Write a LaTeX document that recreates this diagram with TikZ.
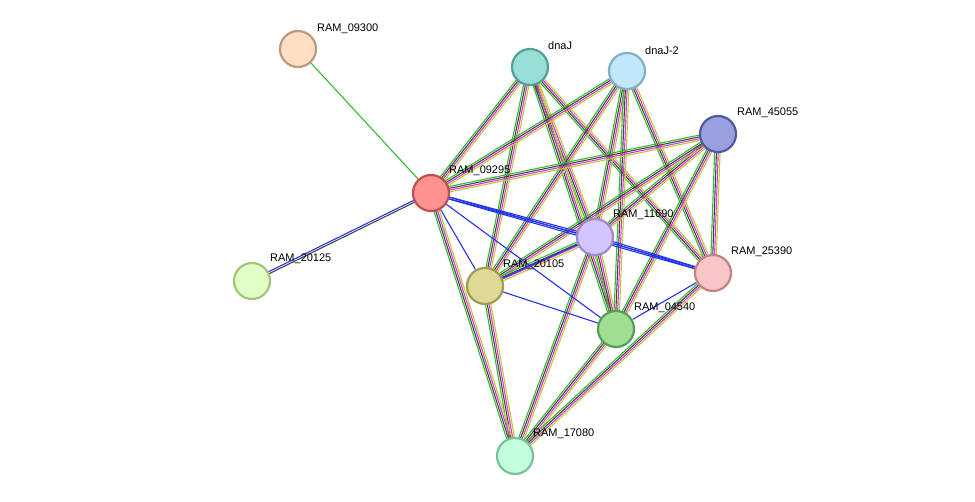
\documentclass[tikz,border=0pt]{standalone}
\usepackage{fontspec}
\setmainfont{Liberation Sans}
\usetikzlibrary{calc}
\pgfdeclarelayer{bg}\pgfsetlayers{bg,main}
\definecolor{eg}{HTML}{33BB33}
\definecolor{ek}{HTML}{444444}
\definecolor{em}{HTML}{DD33DD}
\definecolor{ey}{HTML}{BBCC33}
\definecolor{eb}{HTML}{2233EE}
\tikzset{prot/.style={circle,minimum size=36pt,inner sep=0pt,line width=2.2pt},
lab/.style={font=\fontsize{11pt}{12pt}\selectfont,anchor=south west,inner sep=1pt}}
\newcommand\ebund[2]{%
\foreach \o/\c in {-2.7pt/eg,-0.9pt/ek,0.9pt/em,2.7pt/ey}{\draw[\c,line width=1.1pt] ($(#1)!\o!90:(#2)$) -- ($(#2)!\o!-90:(#1)$);}}
\newcommand\eblue[2]{\draw[eb,line width=1.1pt] (#1) -- (#2);}
\begin{document}
\begin{tikzpicture}[x=1pt,y=-1pt]
\useasboundingbox (0,0) rectangle (975,501);
\node[prot,draw={rgb,255:red,185;green,155;blue,125},fill={rgb,255:red,255;green,222;blue,195}] (n09300) at (298,49) {};
\node[prot,draw={rgb,255:red,85;green,160;blue,150},fill={rgb,255:red,152;green,222;blue,214}] (dnaJ) at (530,67) {};
\node[prot,draw={rgb,255:red,130;green,175;blue,200},fill={rgb,255:red,192;green,232;blue,250}] (dnaJ2) at (627,71) {};
\node[prot,draw={rgb,255:red,80;green,90;blue,160},fill={rgb,255:red,152;green,160;blue,222}] (n45055) at (718,134) {};
\node[prot,draw={rgb,255:red,190;green,80;blue,80},fill={rgb,255:red,255;green,145;blue,145}] (n09295) at (431,193) {};
\node[prot,draw={rgb,255:red,155;green,140;blue,200},fill={rgb,255:red,212;green,196;blue,255}] (n11690) at (595,237) {};
\node[prot,draw={rgb,255:red,195;green,130;blue,130},fill={rgb,255:red,248;green,198;blue,198}] (n25390) at (713,273) {};
\node[prot,draw={rgb,255:red,165;green,195;blue,125},fill={rgb,255:red,224;green,255;blue,196}] (n20125) at (252,281) {};
\node[prot,draw={rgb,255:red,160;green,155;blue,85},fill={rgb,255:red,222;green,218;blue,150}] (n20105) at (485,286) {};
\node[prot,draw={rgb,255:red,85;green,160;blue,85},fill={rgb,255:red,160;green,222;blue,145}] (n04540) at (616,329) {};
\node[prot,draw={rgb,255:red,120;green,195;blue,150},fill={rgb,255:red,196;green,255;blue,220}] (n17080) at (515,456) {};
\foreach \n/\t/\x/\y in {n09300/RAM\_09300/316/35,dnaJ/dnaJ/547/51,dnaJ2/dnaJ-2/644/56,n45055/RAM\_45055/736/119,n09295/RAM\_09295/448/177,n11690/RAM\_11690/612/221,n25390/RAM\_25390/730/258,n20125/RAM\_20125/269/265,n20105/RAM\_20105/502/271,n04540/RAM\_04540/633/314,n17080/RAM\_17080/532/440}
 \node[lab] (l\n) at (\x,\y) {\t};
\begin{pgfonlayer}{bg}
\draw[eg,line width=1.1pt] (n09300) -- (n09295);
\draw[ek,line width=1.1pt] ($(n09295)!1pt!90:(n20125)$) -- ($(n20125)!1pt!-90:(n09295)$);
\draw[eb,line width=1.1pt] ($(n09295)!-1pt!90:(n20125)$) -- ($(n20125)!-1pt!-90:(n09295)$);
\foreach \a in {dnaJ,dnaJ2,n45055}{\foreach \b in {n09295,n11690,n25390,n20105,n04540}{\ebund{\a}{\b}}}
\foreach \a/\b in {n11690/n04540,n11690/n17080,n04540/n17080,n20105/n17080,n09295/n17080,n25390/n17080,n11690/n20105}{\ebund{\a}{\b}}
\foreach \a/\b in {n09295/n20105,n09295/n04540,n20105/n04540,n20105/n11690,n04540/n25390}{\eblue{\a}{\b}}
\foreach \a/\b in {n09295/n11690,n11690/n25390,n09295/n25390}{\draw[eb,line width=1.1pt] ($(\a)!0.9pt!90:(\b)$) -- ($(\b)!0.9pt!-90:(\a)$);\draw[eb,line width=1.1pt] ($(\a)!-0.9pt!90:(\b)$) -- ($(\b)!-0.9pt!-90:(\a)$);}
\end{pgfonlayer}
\end{tikzpicture}
\end{document}
